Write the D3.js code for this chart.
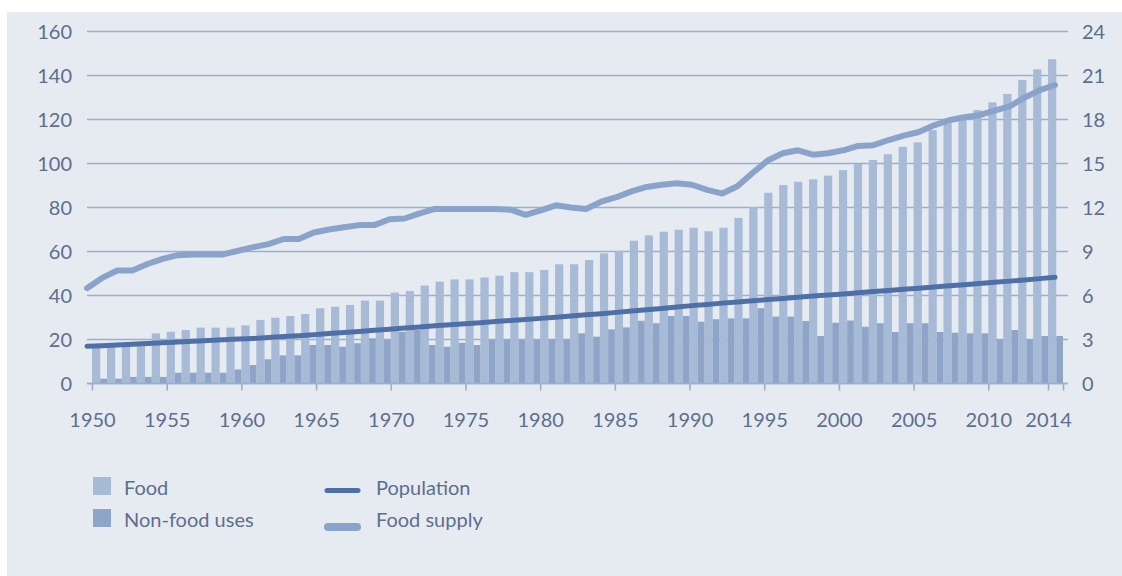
<!DOCTYPE html>
<html>
<head>
<meta charset="utf-8">
<script src="https://cdn.jsdelivr.net/npm/d3@7"></script>
<style>
  body { margin: 0; background: #fff; }
  svg { display: block; font-family: Lato, "Open Sans", sans-serif; }
</style>
</head>
<body>
<svg id="chart" width="1122" height="576"></svg>
<script>
// years 1950 - 2014
var years = d3.range(1950, 2015);

// million tonnes (left axis)
var food = [17.5, 18, 18.5, 19, 22.8, 23.5, 24.3, 25.4, 25.4, 25.4,
            26.4, 28.9, 29.9, 30.7, 31.6, 34.2, 34.9, 35.7, 37.7, 37.7,
            41.3, 42, 44.5, 46.3, 47.3, 47.3, 48.2, 49, 50.6, 50.6,
            51.6, 54.2, 54.2, 56.1, 59.2, 60.3, 64.9, 67.3, 69, 69.9,
            70.8, 69.2, 70.8, 75.3, 80.2, 86.7, 90.2, 91.7, 92.8, 94.5,
            97, 99.8, 101.6, 104.2, 107.6, 109.6, 115.2, 118.3, 120.5, 124.3,
            127.8, 131.6, 138, 142.8, 147.4];
var nonFood = [2.2, 2.2, 3, 3, 3, 4.9, 4.9, 4.9, 4.9, 6.4,
               8.4, 11, 12.8, 12.8, 17.5, 17.5, 16.7, 18.3, 20.5, 19.8,
               23.5, 24.3, 17.5, 16.7, 18.5, 17.5, 19.8, 19.8, 19.8, 19.8,
               20.1, 20.1, 22.8, 21.3, 24.6, 25.5, 28.5, 27.4, 30.7, 30.7,
               28.1, 29.2, 29.6, 29.6, 34.2, 30.4, 30.4, 28.4, 21.6, 27.6,
               28.6, 25.8, 27.4, 23.4, 27.4, 27.4, 23.4, 23.1, 22.8, 22.8,
               20, 24.3, 20, 21.6, 21.6];

// billions (right axis)
var population = [2.54, 2.58, 2.63, 2.68, 2.73, 2.77, 2.83, 2.88, 2.94, 2.98,
                  3.03, 3.07, 3.13, 3.2, 3.26, 3.33, 3.41, 3.48, 3.55, 3.63,
                  3.7, 3.78, 3.86, 3.94, 4.01, 4.08, 4.15, 4.22, 4.29, 4.36,
                  4.44, 4.52, 4.6, 4.68, 4.76, 4.85, 4.94, 5.03, 5.12, 5.21,
                  5.31, 5.39, 5.48, 5.56, 5.64, 5.72, 5.8, 5.88, 5.96, 6.04,
                  6.11, 6.19, 6.27, 6.34, 6.42, 6.5, 6.58, 6.66, 6.74, 6.82,
                  6.9, 6.98, 7.06, 7.15, 7.24];
// kg per capita (right axis)
var foodSupply = [6.5, 7.2, 7.7, 7.7, 8.15, 8.5, 8.75, 8.8, 8.8, 8.8,
                  9.05, 9.3, 9.5, 9.85, 9.85, 10.3, 10.5, 10.65, 10.8, 10.8,
                  11.2, 11.25, 11.6, 11.9, 11.9, 11.9, 11.9, 11.9, 11.85, 11.5,
                  11.8, 12.15, 12, 11.9, 12.4, 12.7, 13.1, 13.4, 13.55, 13.65,
                  13.55, 13.2, 12.95, 13.45, 14.35, 15.2, 15.7, 15.9, 15.6, 15.7,
                  15.9, 16.2, 16.25, 16.6, 16.9, 17.15, 17.6, 17.95, 18.15, 18.3,
                  18.6, 18.9, 19.5, 20, 20.35];

var leftTicks = [0, 20, 40, 60, 80, 100, 120, 140, 160];
var rightTicks = [0, 3, 6, 9, 12, 15, 18, 21, 24];
var yearTicks = [1950, 1955, 1960, 1965, 1970, 1975, 1980, 1985, 1990, 1995, 2000, 2005, 2010, 2014, 2015];

var C = {
  bg: "#e6ebf2", grid: "#9caecb", text: "#5d6e8e",
  food: "#a7bad6", nonFood: "#8ea5c8",
  pop: "#4f70a6", supply: "#8aa3cb"
};

var svg = d3.select("#chart");
svg.append("rect").attr("x", 7).attr("y", 12).attr("width", 1115).attr("height", 564).attr("fill", C.bg);

var x = d3.scaleLinear().domain([1950, 2015]).range([92, 1063]);
var lx = d3.scaleLinear().domain([1950, 2014]).range([87, 1055]);
var yL = d3.scaleLinear().domain([0, 160]).range([383.5, 31.5]);
var yR = d3.scaleLinear().domain([0, 24]).range([383.5, 31.5]);
var step = x(1951) - x(1950);
var foodW = step * 0.55;

// grid
svg.append("g").selectAll("line").data(leftTicks).join("line")
  .attr("x1", 87).attr("x2", 1068)
  .attr("y1", d => yL(d)).attr("y2", d => yL(d))
  .attr("stroke", C.grid).attr("stroke-width", 1.6);

// left axis labels
svg.append("g").selectAll("text").data(leftTicks).join("text")
  .attr("x", 72).attr("y", d => yL(d)).attr("dy", "0.36em")
  .attr("text-anchor", "end").attr("font-size", 20).attr("fill", C.text)
  .text(d => d);

// right axis labels
svg.append("g").selectAll("text").data(rightTicks).join("text")
  .attr("x", 1082).attr("y", d => yR(d)).attr("dy", "0.36em")
  .attr("font-size", 20).attr("fill", C.text)
  .text(d => d);

// bars
var rows = years.map((yr, i) => ({year: yr, food: food[i], nonFood: nonFood[i], pop: population[i], supply: foodSupply[i]}));

svg.append("g").selectAll("rect").data(rows).join("rect")
  .attr("x", d => x(d.year)).attr("width", foodW)
  .attr("y", d => yL(d.food)).attr("height", d => yL(0) - yL(d.food))
  .attr("fill", C.food);

svg.append("g").selectAll("rect").data(rows).join("rect")
  .attr("x", d => x(d.year) + foodW).attr("width", step - foodW)
  .attr("y", d => yL(d.nonFood)).attr("height", d => yL(0) - yL(d.nonFood))
  .attr("fill", C.nonFood);

// x axis
var xAxis = d3.axisBottom(x).tickValues(yearTicks)
  .tickFormat(d => d == 2015 ? "" : d).tickSizeInner(7).tickSizeOuter(0).tickPadding(22);
var gx = svg.append("g").attr("transform", "translate(0," + yL(0) + ")").call(xAxis);
gx.select(".domain").attr("stroke", C.grid).attr("stroke-width", 1.6).attr("d", "M87,0H1068");
gx.selectAll(".tick line").attr("stroke", C.grid).attr("stroke-width", 1.6);
gx.selectAll(".tick text").attr("font-size", 20).attr("fill", C.text).attr("font-family", "Lato, 'Open Sans', sans-serif");

// lines
var supplyLine = d3.line().x(d => lx(d.year)).y(d => yR(d.supply));
var popLine = d3.line().x(d => lx(d.year)).y(d => yR(d.pop));

svg.append("path").datum(rows).attr("d", supplyLine)
  .attr("fill", "none").attr("stroke", C.supply).attr("stroke-width", 6)
  .attr("stroke-linejoin", "round").attr("stroke-linecap", "round");
svg.append("path").datum(rows).attr("d", popLine)
  .attr("fill", "none").attr("stroke", C.pop).attr("stroke-width", 5)
  .attr("stroke-linejoin", "round").attr("stroke-linecap", "round");

// legend
var lg = svg.append("g").attr("font-size", 20).attr("fill", C.text);
lg.append("rect").attr("x", 93).attr("y", 477).attr("width", 18).attr("height", 18).attr("fill", C.food);
lg.append("rect").attr("x", 93).attr("y", 509).attr("width", 18).attr("height", 18).attr("fill", C.nonFood);
lg.append("text").attr("x", 124).attr("y", 495).text("Food");
lg.append("text").attr("x", 124).attr("y", 527).text("Non-food uses");
lg.append("line").attr("x1", 327).attr("x2", 358).attr("y1", 490.5).attr("y2", 490.5)
  .attr("stroke", C.pop).attr("stroke-width", 5).attr("stroke-linecap", "round");
lg.append("line").attr("x1", 328).attr("x2", 357).attr("y1", 527).attr("y2", 527)
  .attr("stroke", C.supply).attr("stroke-width", 8).attr("stroke-linecap", "round");
lg.append("text").attr("x", 376).attr("y", 495).text("Population");
lg.append("text").attr("x", 376).attr("y", 527).text("Food supply");
</script>
</body>
</html>
